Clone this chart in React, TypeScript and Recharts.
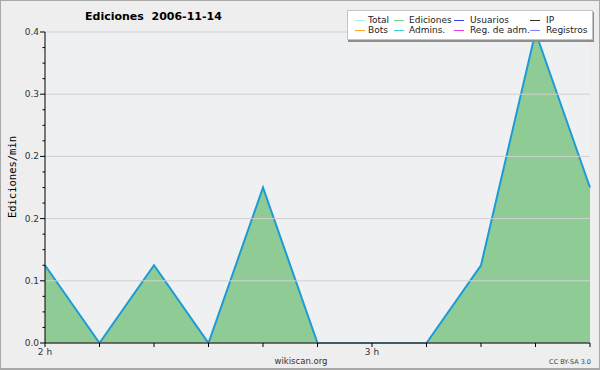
import { ComposedChart, Area, XAxis, YAxis, ReferenceLine } from 'recharts'

// minutes after 2 h, 10 minute buckets
const minutes = [0, 10, 20, 30, 40, 50, 60, 70, 80, 90, 100]
const ediciones = [0.1, 0, 0.1, 0, 0.2, 0, 0, 0, 0.1, 0.4, 0.2]

const xTicks = [0, 10, 20, 30, 40, 50, 60, 70, 80, 90, 100]
const xTickLabels: Record<number, string> = { 0: '2 h', 60: '3 h' }
const yTicks = [0, 0.02, 0.04, 0.06, 0.08, 0.1, 0.12, 0.14, 0.16, 0.18, 0.2, 0.22, 0.24, 0.26, 0.28, 0.3, 0.32, 0.34, 0.36, 0.38, 0.4]
const yMajor = [0, 0.08, 0.16, 0.24, 0.32, 0.4]

const legendItems = [
  { name: 'Total', color: '#a8ecec' },
  { name: 'Ediciones', color: '#77d877' },
  { name: 'Usuarios', color: '#3b3bf5' },
  { name: 'IP', color: '#303030' },
  { name: 'Bots', color: '#ffa520' },
  { name: 'Admins.', color: '#38d8e0' },
  { name: 'Reg. de adm.', color: '#e83be8' },
  { name: 'Registros', color: '#8080ff' },
]
const legendLineX = [354, 393, 453, 529]
const legendTextX = [367, 408, 469, 545]

const data = minutes.map((m, i) => ({ m, ediciones: ediciones[i] }))

const font = 'DejaVu Sans, sans-serif'

const isMajor = (v: number) => Math.round(v * 100) % 8 === 0

function YTick({ x, y, payload }: any) {
  const major = isMajor(payload.value)
  return (
    <g>
      <line x1={x - (major ? 5 : 2.5)} x2={x} y1={y} y2={y} stroke="#000" />
      {major && (
        <text x={x - 6} y={y} dy={3} textAnchor="end" fontSize={9} fill="#333" fontFamily={font}>
          {payload.value.toFixed(1)}
        </text>
      )}
    </g>
  )
}

function XTick({ x, y, payload }: any) {
  const label = xTickLabels[payload.value]
  return (
    <g>
      <line x1={x} x2={x} y1={y} y2={y + 4} stroke="#000" />
      {label && (
        <text x={x} y={y + 12} textAnchor="middle" fontSize={9} fill="#333" fontFamily={font}>
          {label}
        </text>
      )}
    </g>
  )
}

export default function App() {
  return (
    <div
      style={{
        position: 'absolute',
        left: 0,
        top: 0,
        width: 600,
        height: 370,
        background: '#eeeeee',
        boxSizing: 'border-box',
        border: '1px solid #a8a8a8',
        borderBottomWidth: 2,
        fontFamily: font,
      }}
    >
      <div style={{ position: 'absolute', left: -1, top: -1 }}>
        <ComposedChart width={600} height={370} data={data} margin={{ top: 32, right: 10, bottom: 0, left: 0 }}>
          <rect x={45} y={32} width={545} height={311} fill="#eff0f2" />
          {yMajor.map((v) => (
            <ReferenceLine key={v} y={v} stroke="#d0d0d0" strokeWidth={1} />
          ))}
          <XAxis
            dataKey="m"
            type="number"
            domain={[0, 100]}
            ticks={xTicks}
            tick={<XTick />}
            tickLine={false}
            tickSize={0}
            tickMargin={0}
            height={27}
            stroke="#000"
            interval={0}
          />
          <YAxis
            type="number"
            domain={[0, 0.4]}
            ticks={yTicks}
            tick={<YTick />}
            tickLine={false}
            tickSize={0}
            tickMargin={0}
            width={45}
            stroke="#000"
            interval={0}
          />
          <Area
            type="linear"
            dataKey="ediciones"
            fill="#8fcb95"
            fillOpacity={1}
            stroke="#1d9ad8"
            strokeWidth={2}
            isAnimationActive={false}
            dot={false}
            activeDot={false}
          />
        </ComposedChart>
      </div>
      <div
        style={{
          position: 'absolute',
          left: 11,
          top: 176,
          transform: 'translate(-50%, -50%) rotate(-90deg)',
          fontFamily: 'DejaVu Sans Mono, monospace',
          fontSize: 10.5,
          color: '#000',
          whiteSpace: 'nowrap',
        }}
      >
        Ediciones/min
      </div>
      <div style={{ position: 'absolute', left: 84, top: 9, fontSize: 11, fontWeight: 'bold', color: '#000', whiteSpace: 'pre' }}>
        {'Ediciones  2006-11-14'}
      </div>
      <div
        style={{
          position: 'absolute',
          left: 346,
          top: 9,
          width: 244,
          height: 28,
          background: '#fff',
          border: '1px solid #c4c4c4',
          boxShadow: '1px 2px 0 #8e8e8e',
        }}
      />
      {legendItems.map((it, i) => {
        const col = i % 4
        const cy = i < 4 ? 18.5 : 28.5
        return (
          <div key={it.name}>
            <span
              style={{ position: 'absolute', left: legendLineX[col], top: cy, width: 10, height: 1, background: it.color }}
            />
            <span
              style={{
                position: 'absolute',
                left: legendTextX[col],
                top: cy - 6,
                fontSize: 9,
                lineHeight: '12px',
                color: '#222',
                whiteSpace: 'nowrap',
              }}
            >
              {it.name}
            </span>
          </div>
        )
      })}
      <div style={{ position: 'absolute', left: 0, width: 600, top: 355, textAlign: 'center', fontSize: 8.5, color: '#333' }}>
        wikiscan.org
      </div>
      <div style={{ position: 'absolute', right: 8, top: 357, fontSize: 6.5, color: '#444' }}>CC BY-SA 3.0</div>
    </div>
  )
}
